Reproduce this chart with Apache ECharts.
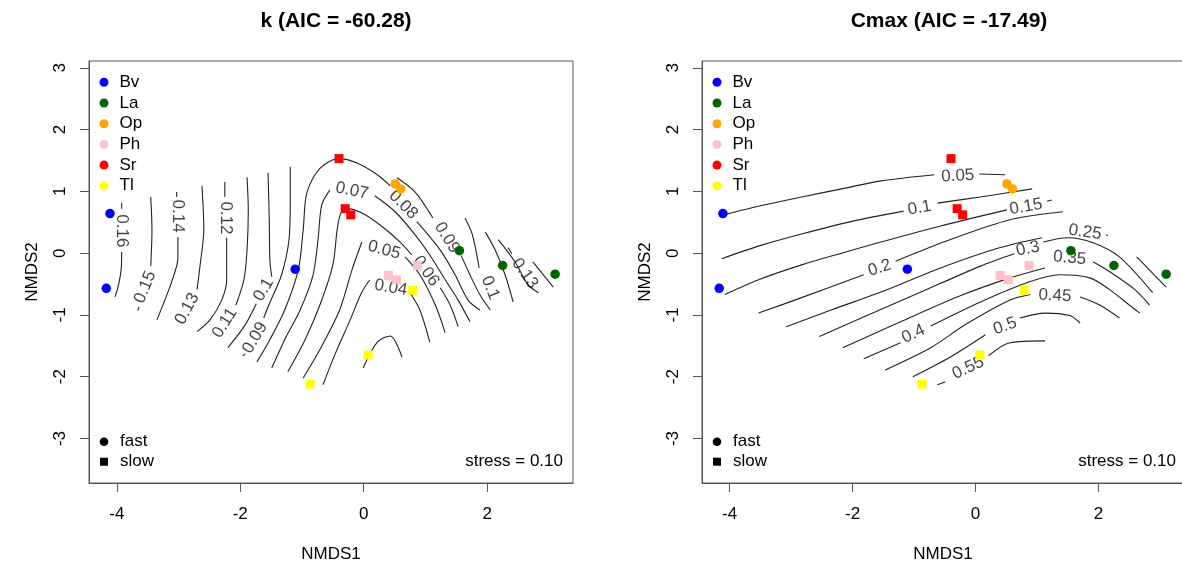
<!DOCTYPE html>
<html><head><meta charset="utf-8">
<script src="https://cdn.jsdelivr.net/npm/echarts@6/dist/echarts.min.js"></script>
<style>html,body{margin:0;padding:0;background:#fff}#c{width:1182px;height:567px}</style>
</head><body><div id="c"></div>
<script>
// ---------- data ----------
const xTicks = [-4, -2, 0, 2];
const yTicks = [-3, -2, -1, 0, 1, 2, 3];
const groups = ['Bv', 'La', 'Op', 'Ph', 'Sr', 'Tl'];
const siteGroup = ['Bv','Bv','Bv','La','La','La','Op','Op','Ph','Ph','Ph','Sr','Sr','Sr','Tl','Tl','Tl'];
const siteSpeed = ['fast','fast','fast','fast','fast','fast','fast','fast','slow','slow','slow','slow','slow','slow','slow','slow','slow'];
const siteNMDS1 = [-4.11,-4.17,-1.11, 1.55, 2.25, 3.10, 0.51, 0.60, 0.40, 0.53, 0.87,-0.40,-0.30,-0.21, 0.79, 0.07,-0.87];
const siteNMDS2 = [ 0.64,-0.57,-0.26, 0.04,-0.20,-0.34, 1.12, 1.04,-0.36,-0.43,-0.20, 1.53, 0.72, 0.62,-0.60,-1.65,-2.12];

// panel 1: k surface contours (null = gap for a label)
const kLevels = [0.16,0.15,0.14,0.13,0.12,0.11,0.10,0.09,0.08,0.07,0.06,0.05,0.04,0.03,0.09,0.10,0.11,0.12,0.13,0.14];
const kPaths = [
 [[-3.92,0.81],[-3.92,0.72],null,[-3.92,0.02],[-3.93,-0.27],[-3.98,-0.55],[-4.03,-0.71]],
 [[-3.45,0.91],[-3.43,0.38],[-3.45,-0.21],null,[-3.64,-0.87],[-3.66,-0.93]],
 [[-3.03,0.99],[-3.03,0.91],null,[-3.01,0.26],[-3.01,-0.08],[-3.11,-0.46],[-3.35,-1.08]],
 [[-2.62,1.09],[-2.59,0.38],[-2.65,-0.19],[-2.70,-0.59],null,[-3.03,-1.19]],
 [[-2.25,1.15],[-2.25,0.91],null,[-2.22,0.25],[-2.22,-0.43],[-2.30,-0.76],[-2.49,-1.08],[-2.70,-1.27]],
 [[-1.89,1.23],[-1.87,0.70],[-1.89,0.05],[-1.94,-0.43],[-2.07,-0.84],null,[-2.44,-1.40]],
 [[-1.55,1.30],[-1.53,0.54],[-1.52,-0.11],[-1.49,-0.38],null,[-1.74,-0.82],[-1.92,-1.16],[-2.20,-1.53]],
 [[-1.19,1.40],[-1.19,0.86],[-1.21,0.22],[-1.33,-0.35],[-1.52,-0.80],[-1.62,-1.05],null,[-1.92,-1.63],[-1.96,-1.66]],
 [[-1.73,-1.76],[-1.52,-1.40],[-1.28,-0.92],[-1.06,-0.27],[-0.98,0.38],[-0.93,0.94],[-0.79,1.27],[-0.63,1.44],[-0.40,1.53],[-0.11,1.46],[0.22,1.27],[0.43,1.09],null,[0.86,0.51],[1.24,0.05],[1.48,-0.35],[1.69,-0.76],[1.88,-0.92]],
 [[-1.49,-1.86],[-1.28,-1.40],[-1.03,-0.92],[-0.82,-0.35],[-0.74,0.22],[-0.68,0.78],[-0.55,1.02],null,[0.18,0.93],[0.51,0.67],[0.83,0.30],[1.07,-0.03],[1.32,-0.43],[1.53,-0.76],[1.72,-1.11]],
 [[-1.23,-1.92],[-0.95,-1.40],[-0.71,-0.84],[-0.50,-0.19],[-0.43,0.38],[-0.37,0.65],[-0.27,0.72],[-0.03,0.65],[0.26,0.46],[0.59,0.18],[0.78,-0.03],null,[1.24,-0.56],[1.40,-0.84],[1.53,-1.19]],
 [[-0.98,-2.02],[-0.71,-1.56],[-0.39,-0.92],[-0.19,-0.27],[-0.03,0.18],null,[0.67,-0.06],[0.91,-0.35],[1.16,-0.84],[1.32,-1.29]],
 [[-0.66,-2.13],[-0.47,-1.65],[-0.22,-1.08],[-0.03,-0.63],[0.10,-0.43],null,[0.75,-0.64],[0.91,-0.92],[1.07,-1.44]],
 [[-0.01,-1.86],[0.22,-1.44],[0.43,-1.34],[0.62,-1.68]],
 [[0.54,1.22],[0.83,0.99],[1.12,0.57],null,[1.58,-0.04],[1.72,-0.35],[1.88,-0.67],[2.05,-0.92]],
 [[1.64,0.57],[1.76,0.30],[1.87,-0.24],null,[2.21,-0.79]],
 [[1.97,0.34],[2.13,0.05],[2.29,-0.35],[2.42,-0.79]],
 [[2.18,0.22],[2.45,-0.14],[2.66,-0.51],[2.83,-0.64]],
 [[2.34,0.09],[2.40,-0.01],null,[2.86,-0.64]],
 [[2.74,-0.14],[3.07,-0.55]]
];
const kLabelText  = ['0.16','0.15','0.14','0.13','0.12','0.11','0.1','0.09','0.08','0.07','0.06','0.05','0.04','0.09','0.1','0.13'];
const kLabelXY    = [[-3.92,0.36],[-3.54,-0.55],[-3.01,0.60],[-2.86,-0.90],[-2.23,0.57],[-2.25,-1.13],[-1.62,-0.59],[-1.76,-1.37],[0.64,0.78],[-0.19,1.01],[1.01,-0.29],[0.33,0.05],[0.44,-0.56],[1.35,0.25],[2.05,-0.56],[2.61,-0.33]];
const kLabelAngle = [-90,68,-90,62,-90,58,60,60,-45,-12,-55,-15,-10,-58,-68,-55];

// panel 2: Cmax surface contours
const cLevels = [0.05,0.10,0.15,0.20,0.25,0.30,0.35,0.40,0.45,0.50,0.55];
const cPaths = [
 [[-4.10,0.62],[-3.48,0.77],[-2.83,0.91],[-2.18,1.04],[-1.54,1.17],[-0.67,1.27],null,[0.06,1.28],[0.48,1.27]],
 [[-4.13,-0.09],[-3.48,0.13],[-2.83,0.31],[-2.03,0.51],[-1.17,0.68],null,[-0.62,0.81],[0.08,0.91],[0.92,1.04]],
 [[-4.08,-0.67],[-3.53,-0.43],[-2.83,-0.19],[-2.18,0.00],[-1.54,0.18],[-0.57,0.44],[0.51,0.70],null,[1.16,0.84],[1.24,0.86]],
 [[-3.53,-0.97],[-2.83,-0.72],[-1.82,-0.35],null,[-1.30,-0.13],[-0.41,0.22],[0.56,0.54],[1.42,0.67]],
 [[-3.08,-1.19],[-2.35,-0.92],[-1.54,-0.63],[-0.57,-0.24],[0.40,0.09],[1.08,0.25],null,[2.12,0.30],[2.15,0.28],null,[2.62,-0.06],[3.10,-0.55]],
 [[-2.54,-1.35],[-1.86,-1.05],[-0.89,-0.63],[0.08,-0.21],[0.63,-0.01],null,[1.10,0.18],[1.49,0.25],[1.91,0.17],[2.34,-0.06],[2.88,-0.64]],
 [[-2.16,-1.53],[-1.22,-1.11],[-0.25,-0.69],[0.56,-0.40],[1.13,-0.24],null,[1.91,-0.14],[2.18,-0.30],[2.59,-0.59],[2.83,-0.84]],
 [[-1.82,-1.71],[-1.22,-1.45],null,[-0.73,-1.18],[0.08,-0.79],[0.89,-0.46],[1.37,-0.35],[1.86,-0.40],[2.18,-0.59],[2.50,-0.84],[2.67,-0.97]],
 [[-1.47,-1.89],[-0.73,-1.53],[-0.17,-1.16],[0.56,-0.76],[0.89,-0.67],null,[1.70,-0.71],[2.02,-0.84],[2.34,-1.05]],
 [[-1.02,-2.00],[-0.41,-1.68],[0.16,-1.32],null,[0.72,-1.05],[1.13,-0.97],[1.53,-1.01],[1.70,-1.13]],
 [[-0.62,-2.13],[-0.49,-2.08],null,[0.21,-1.66],[0.56,-1.45],[1.13,-1.42]]
];
const cLabelText  = ['0.05','0.1','0.15','0.2','0.25','0.3','0.35','0.4','0.45','0.5','0.55'];
const cLabelXY    = [[-0.29,1.25],[-0.91,0.73],[0.82,0.75],[-1.56,-0.24],[1.78,0.34],[0.85,0.07],[1.53,-0.08],[-1.01,-1.31],[1.29,-0.69],[0.48,-1.18],[-0.12,-1.86]];
const cLabelAngle = [3,10,10,18,-8,12,-5,25,-3,20,25];

const panelTitles = ['k (AIC = -60.28)', 'Cmax (AIC = -17.49)'];
const stressText = 'stress = 0.10';

// ---------- styles / layout ----------
const FONT = "'Liberation Sans', Arial, Helvetica, sans-serif";
const groupColor = {Bv:'#0000FF', La:'#006400', Op:'#FFA500', Ph:'#FFC0CB', Sr:'#FF0000', Tl:'#FFFF00'};
const grids = [{left:89, top:61, width:484, height:422}, {left:702, top:61, width:482, height:422}];
const X_MIN = -4.45, X_MAX = 3.39, Y_MIN = -3.72, Y_MAX = 3.11;

function splitPath(path) {
  const segs = []; let seg = [];
  path.forEach(p => { if (p === null) { if (seg.length > 1) segs.push(seg); seg = []; } else seg.push(p); });
  if (seg.length > 1) segs.push(seg);
  return segs;
}

function panelSeries(p, paths, labXY, labText, labAngle) {
  const out = [];
  paths.forEach(path => splitPath(path).forEach(seg => out.push({
    type:'line', xAxisIndex:p, yAxisIndex:p, data:seg, symbol:'none', smooth:0.3,
    lineStyle:{color:'#222', width:1.1}, silent:true, z:2
  })));
  out.push({
    type:'scatter', xAxisIndex:p, yAxisIndex:p, symbolSize:0, silent:true, z:3,
    label:{show:true, position:'inside', fontSize:17, color:'#111', fontFamily:FONT},
    data: labXY.map((xy,i) => ({value:xy, label:{formatter:labText[i], rotate:labAngle[i]}}))
  });
  groups.forEach(g => {
    const idx = siteGroup.map((s,i)=>i).filter(i => siteGroup[i] === g);
    out.push({
      type:'scatter', name:g, xAxisIndex:p, yAxisIndex:p, z:5,
      itemStyle:{color:groupColor[g], opacity:1},
      data: idx.map(i => ({value:[siteNMDS1[i], siteNMDS2[i]],
        symbol: siteSpeed[i] === 'fast' ? 'circle' : 'rect',
        symbolSize: siteSpeed[i] === 'fast' ? 9.5 : 9}))
    });
  });
  return out;
}

const chart = echarts.init(document.getElementById('c'), null, {renderer:'canvas'});
const option = {
  animation:false,
  backgroundColor:'#ffffff',
  textStyle:{fontFamily:FONT},
  title: grids.map((g,i) => ({
    text: panelTitles[i], left: 242 + g.left, top: 6, textAlign:'center',
    textStyle:{fontSize:21, fontWeight:'bold', color:'#000', fontFamily:FONT}
  })),
  grid: grids.map(g => ({left:g.left, top:g.top, width:g.width, height:g.height, show:true,
    borderColor:'#555', borderWidth:1, backgroundColor:'transparent', outerBoundsMode:'none', containLabel:false})),
  xAxis: grids.map((g,i) => ({
    type:'value', gridIndex:i, min:X_MIN, max:X_MAX, position:'bottom',
    axisLine:{show:true, onZero:false, lineStyle:{color:'#555'}},
    splitLine:{show:false},
    axisTick:{show:true, length:9, customValues:xTicks, lineStyle:{color:'#555'}},
    axisLabel:{show:true, customValues:xTicks, fontSize:17, color:'#000', margin:23, fontFamily:FONT},
    name:'NMDS1', nameLocation:'middle', nameGap:63,
    nameTextStyle:{fontSize:17, color:'#000', fontFamily:FONT}
  })),
  yAxis: grids.map((g,i) => ({
    type:'value', gridIndex:i, min:Y_MIN, max:Y_MAX, position:'left',
    axisLine:{show:true, onZero:false, lineStyle:{color:'#555'}},
    splitLine:{show:false},
    axisTick:{show:true, length:9, customValues:yTicks, lineStyle:{color:'#555'}},
    axisLabel:{show:true, customValues:yTicks, fontSize:17, color:'#000', margin:20, rotate:90, fontFamily:FONT},
    name:'NMDS2', nameLocation:'middle', nameGap:48,
    nameTextStyle:{fontSize:17, color:'#000', fontFamily:FONT}
  })),
  legend: grids.map(g => ({
    data: groups.map(n => ({name:n, icon:'circle', itemStyle:{opacity:1}})),
    orient:'vertical', left:g.left + 10.5, top:73.8, padding:0,
    itemWidth:9, itemHeight:9, itemGap:3.7, selectedMode:false,
    textStyle:{fontSize:17, lineHeight:17, color:'#000', fontFamily:FONT, padding:[0,0,0,6]}
  })),
  graphic: grids.flatMap(g => [
    {type:'circle', shape:{cx:g.left+15, cy:441.7, r:4.3}, style:{fill:'#000'}},
    {type:'rect', shape:{x:g.left+11, y:457.7, width:8, height:8}, style:{fill:'#000'}},
    {type:'text', x:g.left+31, y:441.7, style:{text:'fast', fontSize:17, fontFamily:FONT, fill:'#000', verticalAlign:'middle', align:'left'}},
    {type:'text', x:g.left+31, y:461.7, style:{text:'slow', fontSize:17, fontFamily:FONT, fill:'#000', verticalAlign:'middle', align:'left'}},
    {type:'text', x:Math.min(g.left+474, 1177), y:461.7, style:{text:stressText, fontSize:17, fontFamily:FONT, fill:'#000', verticalAlign:'middle', align:'right'}}
  ]),
  series: [
    ...panelSeries(0, kPaths, kLabelXY, kLabelText, kLabelAngle),
    ...panelSeries(1, cPaths, cLabelXY, cLabelText, cLabelAngle)
  ]
};
chart.setOption(option);
</script>
</body></html>
